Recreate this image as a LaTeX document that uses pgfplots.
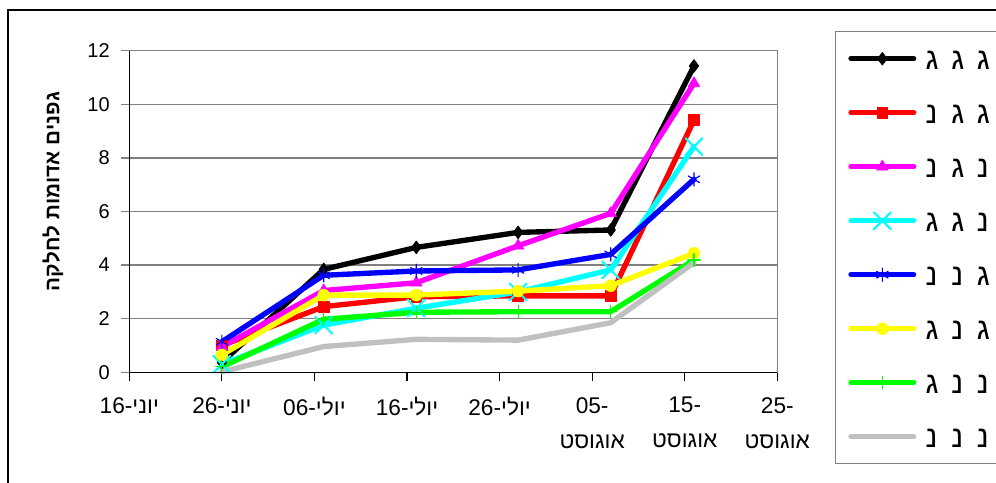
\documentclass[border=0pt]{standalone}
\usepackage{fontspec}
\setmainfont{Liberation Sans}
\usepackage{pgfplots}
\pgfplotsset{compat=1.18}
\TeXXeTstate=1
\definecolor{gridgray}{RGB}{128,128,128}
\definecolor{lgray}{RGB}{192,192,192}
\definecolor{mag}{RGB}{255,0,255}
\definecolor{cyn}{RGB}{0,255,255}
\definecolor{grn}{RGB}{0,255,0}
\definecolor{ylw}{RGB}{255,255,0}
\newcommand{\legtxt}[3]{\makebox[19.2pt][l]{#1}\makebox[19.2pt][l]{#2}\makebox[40pt][l]{#3}}
\begin{document}
\begin{tikzpicture}
\useasboundingbox (0,0) rectangle (747pt,361.5pt);
\draw[black, line width=2pt] (6pt,-20pt) rectangle (800pt,354pt);
\begin{axis}[
  at={(96.98pt,82.28pt)}, anchor=south west,
  scale only axis, width=486pt, height=241.2pt,
  xmin=0, xmax=70, ymin=0, ymax=12,
  clip=false,
  xtick={0,10,...,70}, ytick={0,2,...,12},
  xticklabels={{16-\beginR יוני\endR},{26-\beginR יוני\endR},{06-\beginR יולי\endR},{16-\beginR יולי\endR},{26-\beginR יולי\endR},{05-\\\beginR אוגוסט\endR},{15-\\\beginR אוגוסט\endR},{25-\\\beginR אוגוסט\endR}},
  /pgf/number format/assume math mode=true,
  yticklabel style={font=\fontsize{15pt}{18pt}\selectfont, anchor=east, inner sep=0pt, xshift=-8pt},
  xticklabel style={font=\fontsize{17pt}{26.25pt}\selectfont, align=center, anchor=north, inner sep=0pt, yshift=-12pt},
  ymajorgrids, grid style={draw=gridgray, line width=1.1pt},
  axis line style={draw=gridgray, line width=1.1pt},
  tick align=outside, tick pos=left,
  major tick length=6.5pt,
  xtick style={draw=black, line width=0.9pt},
  ytick style={draw=gridgray, line width=1.1pt},
  ylabel={\beginR גפנים אדומות לחלקה\endR},
  every axis y label/.style={at={(axis description cs:-0.1177,0.562)}, rotate=90, anchor=center, font=\fontsize{15.5pt}{18pt}\selectfont\bfseries},
  legend style={at={(axis description cs:1.089,1.0613)}, anchor=north west,
    draw=gridgray, line width=1.1pt, inner xsep=9.5pt, inner ysep=0pt,
    row sep=0pt, column sep=7pt,
    nodes={inner sep=0pt, text height=28pt, text depth=12.5pt},
    font=\fontsize{23pt}{26pt}\selectfont},
  legend cell align=left,
  legend image code/.code={\draw[mark repeat=2,mark phase=2] plot coordinates {(0pt,0pt) (23.5pt,0pt) (47pt,0pt)};},
  every axis plot/.append style={line width=4pt, line join=round, line cap=round},
  after end axis/.code={
    \draw[black, line width=1.1pt] (rel axis cs:0,0) -- (rel axis cs:0,1);
    \draw[black, line width=1.1pt] (rel axis cs:0,0) -- (rel axis cs:1,0);
  },
]
\addplot[color=black, mark=diamond*, mark size=4.8pt, mark options={solid, line width=0.5pt}]
 coordinates {(10,0.37) (21,3.84) (31,4.66) (42,5.22) (52,5.31) (61,11.43)};
\addlegendentry{\legtxt{ג}{ג}{ג}}
\addplot[color=red, mark=square*, mark size=4pt, mark options={solid, line width=0.5pt}]
 coordinates {(10,1.0) (21,2.45) (31,2.82) (42,2.85) (52,2.85) (61,9.41)};
\addlegendentry{\legtxt{נ}{ג}{ג}}
\addplot[color=mag, mark=triangle*, mark size=5pt, mark options={solid, line width=0.5pt}]
 coordinates {(10,0.95) (21,3.05) (31,3.34) (42,4.72) (52,5.93) (61,10.78)};
\addlegendentry{\legtxt{נ}{ג}{נ}}
\addplot[color=cyn, mark=x, mark size=9pt, mark options={solid, line width=1.5pt}]
 coordinates {(10,0.3) (21,1.76) (31,2.39) (42,3.0) (52,3.82) (61,8.42)};
\addlegendentry{\legtxt{ג}{ג}{נ}}
\addplot[color=blue, mark=asterisk, mark size=5pt, mark options={solid, line width=0.9pt}]
 coordinates {(10,1.14) (21,3.62) (31,3.78) (42,3.82) (52,4.4) (61,7.2)};
\addlegendentry{\legtxt{נ}{נ}{ג}}
\addplot[color=ylw, mark=*, mark size=4.4pt, mark options={solid, line width=0.5pt}]
 coordinates {(10,0.65) (21,2.88) (31,2.88) (42,3.03) (52,3.23) (61,4.44)};
\addlegendentry{\legtxt{ג}{נ}{ג}}
\addplot[color=grn, mark=+, mark size=4.7pt, mark options={solid, line width=0.8pt}]
 coordinates {(10,0.2) (21,1.98) (31,2.24) (42,2.26) (52,2.26) (61,4.19)};
\addlegendentry{\legtxt{ג}{נ}{נ}}
\addplot[color=lgray, mark=none]
 coordinates {(10,0.02) (21,0.96) (31,1.23) (42,1.2) (52,1.85) (61,4.09)};
\addlegendentry{\legtxt{נ}{נ}{נ}}
\end{axis}
\end{tikzpicture}
\end{document}
